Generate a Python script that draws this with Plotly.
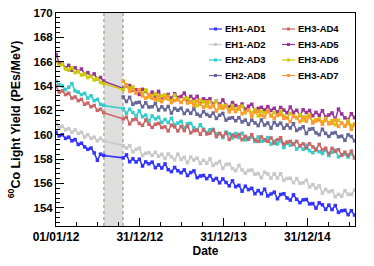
import plotly.graph_objects as go
import pandas as pd

# ---------------- data ----------------
PRE_START, PRE_END = "2012-01-01", "2012-07-27"
POST_START, POST_END = "2012-10-20", "2015-07-25"
GAP_START, GAP_END = "2012-07-28", "2012-10-19"
pre_dates = list(pd.date_range(PRE_START, PRE_END, periods=16))
post_dates = list(pd.date_range(POST_START, POST_END, periods=73))

X_RANGE = ["2012-01-01", "2015-07-27"]
X_TICK_VALS = ["2012-01-01", "2012-12-31", "2013-12-31", "2014-12-31"]
X_TICK_TEXT = ["01/01/12", "31/12/12", "31/12/13", "31/12/14"]
Y_RANGE = [152.5, 170]

ad1_pre = [160.2, 159.9, 160.0, 159.7, 159.8, 159.5, 159.6, 159.2, 159.3, 159.0,
           158.8, 158.9, 158.5, 157.9, 158.4, 158.3]
ad1_post = [158.10, 158.34, 157.78, 158.02, 157.76, 157.99, 157.43, 157.77, 157.61, 157.75,
            157.29, 157.52, 157.26, 157.60, 157.13, 156.97, 157.31, 157.04, 156.88, 157.11,
            156.65, 156.89, 157.03, 156.47, 156.61, 156.65, 156.39, 156.63, 156.27, 156.41,
            156.05, 156.37, 156.08, 155.80, 156.21, 155.73, 155.84, 155.36, 155.77, 155.49,
            155.60, 155.15, 155.41, 155.16, 155.52, 154.97, 155.13, 155.28, 154.74, 155.09,
            155.15, 154.80, 154.63, 155.06, 154.69, 154.42, 154.65, 154.68, 154.31, 154.34,
            153.97, 154.40, 154.24, 153.87, 154.21, 153.85, 154.18, 153.62, 153.75, 153.79,
            153.43, 153.76, 153.40]

ad2_pre = [160.9, 160.6, 160.7, 160.4, 160.5, 160.2, 160.4, 160.1, 160.2, 159.8,
           160.0, 159.7, 159.8, 159.5, 159.7, 159.5]
ad2_post = [159.10, 158.90, 159.10, 158.60, 158.80, 158.90, 158.30, 158.47, 158.53, 158.30,
            158.56, 158.23, 158.39, 158.05, 158.42, 158.18, 157.95, 158.41, 157.97, 158.14,
            157.70, 158.16, 157.92, 158.08, 157.64, 157.90, 157.66, 158.02, 157.48, 157.64,
            157.80, 157.23, 157.56, 157.59, 157.22, 157.05, 157.48, 157.11, 156.84, 157.07,
            157.10, 156.75, 156.81, 156.46, 156.92, 156.77, 156.43, 156.78, 156.44, 156.79,
            156.25, 156.40, 156.43, 156.06, 156.39, 156.01, 156.04, 156.27, 155.70, 155.90,
            155.60, 155.80, 155.20, 155.50, 155.30, 155.40, 154.90, 155.10, 154.95, 155.40,
            155.10, 155.10, 155.45]

ad3_pre = [164.4, 164.1, 164.0, 163.7, 163.9, 164.2, 163.6, 163.5, 163.3, 163.4,
           163.0, 163.2, 162.8, 162.9, 162.5, 162.4]
ad3_post = [162.15, 161.77, 162.09, 161.82, 161.54, 161.96, 161.48, 161.61, 161.13, 161.55,
            161.30, 161.45, 161.00, 161.25, 161.00, 161.35, 160.80, 160.95, 161.10, 160.55,
            160.90, 160.93, 160.56, 160.39, 160.82, 160.45, 160.18, 160.41, 160.44, 160.07,
            160.10, 159.76, 160.22, 160.08, 159.74, 160.10, 159.76, 160.12, 159.58, 159.74,
            159.80, 159.45, 159.81, 159.46, 159.52, 159.77, 159.23, 159.48, 159.24, 159.49,
            158.95, 159.30, 159.14, 159.28, 158.82, 159.06, 158.80, 159.14, 158.68, 158.52,
            158.86, 158.60, 158.46, 158.73, 158.29, 158.56, 158.72, 158.18, 158.35, 158.41,
            158.17, 158.44, 158.10]

ad4_pre = [164.0, 163.5, 163.6, 163.3, 163.4, 163.0, 163.1, 162.8, 162.9, 162.5,
           162.6, 162.3, 162.4, 162.0, 162.1, 161.8]
ad4_post = [161.30, 161.44, 160.89, 161.23, 161.28, 160.92, 160.77, 161.21, 160.86, 160.60,
            160.86, 160.93, 160.59, 160.65, 160.32, 160.78, 160.65, 160.31, 160.67, 160.34,
            160.70, 160.16, 160.32, 160.38, 160.04, 160.40, 160.06, 160.12, 160.38, 159.84,
            160.10, 159.87, 160.14, 159.61, 159.98, 159.85, 160.02, 159.59, 159.86, 159.63,
            160.00, 159.57, 159.45, 159.82, 159.59, 159.46, 159.74, 159.31, 159.58, 159.75,
            159.23, 159.40, 159.45, 159.20, 159.45, 159.10, 159.25, 158.90, 159.25, 159.00,
            158.75, 159.20, 158.75, 158.89, 158.44, 158.88, 158.63, 158.77, 158.32, 158.56,
            158.31, 158.65, 158.10]

ad5_pre = [166.6, 165.9, 165.8, 165.5, 165.7, 165.3, 165.5, 165.2, 165.4, 165.0,
           165.1, 164.8, 165.0, 164.6, 164.7, 164.4]
ad5_post = [163.80, 164.02, 164.04, 163.67, 163.69, 163.31, 163.73, 163.56, 163.18, 163.50,
            163.18, 163.56, 163.05, 163.23, 163.31, 162.99, 163.37, 163.05, 163.14, 163.42,
            162.90, 163.15, 162.90, 163.15, 162.60, 162.95, 162.80, 162.95, 162.50, 162.75,
            162.50, 162.86, 162.42, 162.28, 162.64, 162.40, 162.26, 162.52, 162.08, 162.34,
            162.50, 161.98, 162.16, 162.25, 162.03, 162.31, 161.99, 162.17, 161.85, 162.24,
            162.02, 161.80, 162.27, 161.84, 162.01, 161.58, 162.05, 161.82, 161.99, 161.56,
            161.83, 161.60, 161.97, 161.45, 161.62, 161.79, 161.26, 162.10, 161.71, 161.38,
            161.25, 161.73, 161.40]

ad6_pre = [166.0, 165.7, 165.8, 165.4, 165.3, 165.5, 165.1, 165.2, 164.9, 165.0,
           164.7, 164.8, 164.5, 164.6, 164.3, 164.2]
ad6_post = [163.70, 164.11, 163.82, 163.93, 163.44, 163.66, 163.37, 163.68, 163.09, 163.20,
            163.36, 162.83, 163.19, 163.25, 162.92, 162.78, 163.25, 162.91, 162.67, 162.94,
            163.00, 162.66, 162.72, 162.38, 162.84, 162.70, 162.36, 162.72, 162.38, 162.74,
            162.20, 162.35, 162.40, 162.05, 162.40, 162.05, 162.10, 162.35, 161.80, 162.05,
            161.80, 162.07, 161.55, 161.92, 161.79, 161.96, 161.54, 161.81, 161.58, 161.95,
            161.53, 161.40, 161.76, 161.52, 161.38, 161.64, 161.20, 161.46, 161.62, 161.08,
            161.24, 161.30, 161.06, 161.33, 160.99, 161.15, 160.82, 161.18, 160.95, 160.71,
            161.17, 160.74, 160.90]

ad7_post = [164.40, 164.08, 163.56, 163.74, 163.42, 163.70, 163.20, 163.00, 163.30, 163.00,
            162.87, 163.15, 162.72, 162.99, 163.16, 162.64, 162.81, 162.88, 162.65, 162.93,
            162.60, 162.75, 162.40, 162.75, 162.50, 162.25, 162.70, 162.25, 162.40, 161.95,
            162.40, 162.16, 162.32, 161.88, 162.14, 161.90, 162.26, 161.72, 161.88, 162.04,
            161.50, 161.86, 161.93, 161.59, 161.45, 161.92, 161.58, 161.35, 161.61, 161.67,
            161.34, 161.40, 161.07, 161.54, 161.41, 161.08, 161.45, 161.12, 161.49, 160.96,
            161.13, 161.20, 160.86, 161.23, 160.89, 160.95, 161.22, 160.68, 160.95, 160.71,
            160.97, 160.44, 160.80]

ad8_post = [163.10, 162.73, 163.07, 162.50, 162.63, 162.67, 162.30, 162.63, 162.27, 162.30,
            162.56, 162.03, 162.29, 162.05, 162.32, 161.78, 162.15, 162.01, 162.17, 161.74,
            162.00, 161.76, 162.12, 161.68, 161.54, 161.90, 161.66, 161.52, 161.78, 161.34,
            161.60, 161.75, 161.20, 161.35, 161.40, 161.15, 161.40, 161.05, 161.20, 160.85,
            161.20, 160.97, 160.75, 161.22, 160.79, 160.96, 160.54, 161.01, 160.78, 160.95,
            160.53, 160.80, 160.55, 160.90, 160.35, 160.50, 160.65, 160.10, 160.45, 160.50,
            160.15, 160.00, 160.45, 160.11, 159.86, 160.12, 160.17, 159.83, 159.88, 159.54,
            159.99, 159.85, 159.50]

# name, colour, pre-gap values, post-gap values (drawing order)
series = [
    ("EH1-AD1", "#3333ff", ad1_pre, ad1_post),
    ("EH1-AD2", "#c8c8c8", ad2_pre, ad2_post),
    ("EH2-AD3", "#33cccc", ad3_pre, ad3_post),
    ("EH3-AD4", "#cc6666", ad4_pre, ad4_post),
    ("EH2-AD8", "#666699", [], ad8_post),
    ("EH3-AD5", "#993399", ad5_pre, ad5_post),
    ("EH3-AD6", "#cccc00", ad6_pre, ad6_post),
    ("EH3-AD7", "#ff9933", [], ad7_post),
]
# legend layout: two columns
legend_columns = [["EH1-AD1", "EH1-AD2", "EH2-AD3", "EH2-AD8"],
                  ["EH3-AD4", "EH3-AD5", "EH3-AD6", "EH3-AD7"]]

# ---------------- figure ----------------
W, H = 374, 266
ML, MR, MT, MB = 56, 19, 13, 40
FONT = "Liberation Sans, Arial, Helvetica, sans-serif"

fig = go.Figure()
colour_of = {}
for name, colour, pre, post in series:
    colour_of[name] = colour
    xs = (pre_dates[:len(pre)] if pre else []) + post_dates
    ys = list(pre) + list(post)
    fig.add_trace(go.Scatter(
        x=xs, y=ys, name=name, mode="lines+markers",
        line=dict(color=colour, width=1.5),
        marker=dict(color=colour, size=3.5, symbol="square"),
        showlegend=False,
    ))

shapes = [
    dict(type="rect", xref="x", yref="paper", x0=GAP_START, x1=GAP_END, y0=0, y1=1,
         fillcolor="#dedede", line=dict(width=0), layer="below"),
    dict(type="line", xref="x", yref="paper", x0=GAP_START, x1=GAP_START, y0=0, y1=1,
         line=dict(color="#b0a8a0", width=1.5, dash="dot"), layer="below"),
    dict(type="line", xref="x", yref="paper", x0=GAP_END, x1=GAP_END, y0=0, y1=1,
         line=dict(color="#b0a8a0", width=1.5, dash="dot"), layer="below"),
]

# manual legend (pixel positions inside the figure)
pw, ph = W - ML - MR, H - MT - MB
def px_x(px):
    return (px - ML) / pw
def px_y(py):
    return (H - MB - py) / ph

col_x = [209, 282]
row_y = [29, 44.5, 60, 75.5]
annotations = []
for ci, col in enumerate(legend_columns):
    for ri, name in enumerate(col):
        x0, y = col_x[ci], row_y[ri]
        c = colour_of[name]
        shapes.append(dict(type="line", xref="paper", yref="paper",
                           x0=px_x(x0), x1=px_x(x0 + 13), y0=px_y(y), y1=px_y(y),
                           line=dict(color=c, width=1.2)))
        shapes.append(dict(type="rect", xref="paper", yref="paper",
                           x0=px_x(x0 + 5), x1=px_x(x0 + 8), y0=px_y(y + 1.5), y1=px_y(y - 1.5),
                           fillcolor=c, line=dict(width=0)))
        annotations.append(dict(xref="paper", yref="paper", x=px_x(x0 + 14), y=px_y(y),
                                xanchor="left", yanchor="middle", showarrow=False,
                                text=name, font=dict(family=FONT, size=9.5, color="black", weight="bold")))

axis_common = dict(
    showline=True, linecolor="black", linewidth=1, mirror=True,
    ticks="inside", ticklen=8, tickwidth=1, tickcolor="black",
    showgrid=False, zeroline=False, automargin=False,
)

fig.update_layout(
    width=W, height=H,
    margin=dict(l=ML, r=MR, t=MT, b=MB),
    paper_bgcolor="white", plot_bgcolor="white",
    shapes=shapes, annotations=annotations,
    showlegend=False,
    xaxis=dict(
        type="date", range=X_RANGE,
        tickmode="array", tickvals=X_TICK_VALS, ticktext=X_TICK_TEXT,
        tickfont=dict(family=FONT, size=12, color="black", weight="bold"),
        minor=dict(ticks="inside", ticklen=4, tickwidth=1, tickcolor="black",
                   dtick="M3", tick0="2012-01-01", showgrid=False),
        title=dict(text="Date", standoff=1,
                   font=dict(family=FONT, size=12, color="black", weight="bold")),
        **axis_common,
    ),
    yaxis=dict(
        range=Y_RANGE, dtick=2, tick0=0,
        tickfont=dict(family=FONT, size=11.5, color="black", weight="bold"),
        minor=dict(ticks="inside", ticklen=4, tickwidth=1, tickcolor="black",
                   dtick=0.4, showgrid=False),
        title=dict(text="<sup>60</sup>Co Light Yield (PEs/MeV)", standoff=10,
                   font=dict(family=FONT, size=12.5, color="black", weight="bold")),
        **axis_common,
    ),
)

fig.write_html("out.html",
               config={"displayModeBar": False},
               post_script="document.body.style.margin='0px';document.body.style.overflow='hidden';")
